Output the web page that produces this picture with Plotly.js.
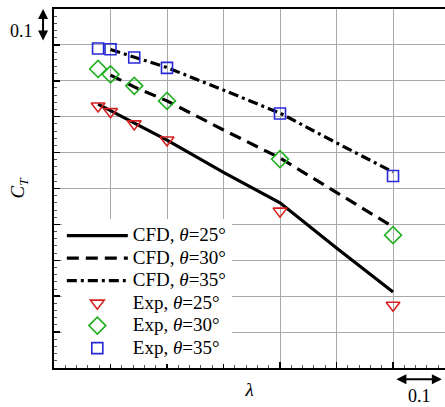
<!DOCTYPE html>
<html>
<head>
<meta charset="utf-8">
<script src="https://cdn.plot.ly/plotly-3.0.1.min.js"></script>
<style>html,body{margin:0;padding:0;background:#fff;}#chart{width:445px;height:407px;}</style>
</head>
<body>
<div id="chart"></div>
<script>
// CFD curves (lambda in arbitrary offset units, grid step 0.1)
const cfdX = [0.1, 0.142, 0.2, 0.3, 0.4, 0.5, 0.6];
const cfd25X = [0.078, 0.1, 0.142, 0.2, 0.3, 0.4, 0.5, 0.6];
const cfd25 = [0.735, 0.717, 0.682, 0.635, 0.545, 0.460, 0.334, 0.212];
const cfd30 = [0.816, 0.783, 0.744, 0.663, 0.585, 0.490, 0.393];
const cfd35 = [0.887, 0.865, 0.837, 0.774, 0.710, 0.627, 0.546];
// Experimental points
const expX = [0.078, 0.1, 0.142, 0.2, 0.4, 0.6];
const exp25 = [0.730, 0.714, 0.680, 0.635, 0.437, 0.175];
const exp30 = [0.833, 0.818, 0.786, 0.744, 0.582, 0.370];
const exp35 = [0.890, 0.888, 0.865, 0.836, 0.709, 0.535];
const seriesNames = ['CFD, <i>θ</i>=25°', 'CFD, <i>θ</i>=30°', 'CFD, <i>θ</i>=35°', 'Exp, <i>θ</i>=25°', 'Exp, <i>θ</i>=30°', 'Exp, <i>θ</i>=35°'];

const serif = 'Liberation Serif, Times New Roman, serif';
const big = s => '<span style="font-size:19px">' + s + '</span>';

const traces = [
  {x: cfd25X, y: cfd25, mode: 'lines', name: big(seriesNames[0]), line: {color: '#000', width: 3.2}},
  {x: cfdX, y: cfd30, mode: 'lines', name: big(seriesNames[1]), line: {color: '#000', width: 3.2, dash: '12px,7px'}},
  {x: cfdX, y: cfd35, mode: 'lines', name: big(seriesNames[2]), line: {color: '#000', width: 3.2, dash: '10px,4px,3px,4px'}},
  {x: expX, y: exp25, mode: 'markers', name: big(seriesNames[3]), marker: {symbol: 'triangle-down-open', size: 12, color: '#d62020', line: {width: 1.6}}},
  {x: expX, y: exp30, mode: 'markers', name: big(seriesNames[4]), marker: {symbol: 'diamond-open', size: 13, color: '#22b022', line: {width: 1.6}}},
  {x: expX, y: exp35, mode: 'markers', name: big(seriesNames[5]), marker: {symbol: 'square-open', size: 11, color: '#2828d8', line: {width: 1.6}}}
];

const arrowCommon = {xref: 'paper', yref: 'paper', text: '', showarrow: true, arrowside: 'end+start', arrowhead: 2, startarrowhead: 2, arrowsize: 1, startarrowsize: 1, arrowwidth: 2, arrowcolor: '#000', standoff: 0, startstandoff: 0};

const layout = {
  width: 445, height: 407,
  margin: {l: 54, r: 0, t: 9, b: 39},
  paper_bgcolor: '#fff', plot_bgcolor: '#fff',
  font: {family: serif, size: 17, color: '#000'},
  showlegend: true,
  legend: {x: 0.02, y: 0.414, xanchor: 'left', yanchor: 'top', bgcolor: '#fff', borderwidth: 0,
           font: {family: serif, size: 15, color: '#000'}, itemwidth: 61, tracegroupgap: 0},
  xaxis: {range: [0, 0.692], dtick: 0.1, tick0: 0, showticklabels: false, ticks: 'inside', ticklen: 6, tickwidth: 1.5, tickcolor: '#000',
          showgrid: true, gridcolor: '#a8a8a8', gridwidth: 1, zeroline: false,
          showline: true, linecolor: '#000', linewidth: 2, mirror: true,
          minor: {dtick: 0.02, ticks: 'inside', ticklen: 3, tickwidth: 1, tickcolor: '#555', showgrid: false},
          title: {text: '<i>λ</i>', font: {family: serif, size: 19}, standoff: 14}},
  yaxis: {range: [0, 1], dtick: 0.1, tick0: 0, showticklabels: false, ticks: 'inside', ticklen: 6, tickwidth: 1.5, tickcolor: '#000',
          showgrid: true, gridcolor: '#a8a8a8', gridwidth: 1, zeroline: false,
          showline: true, linecolor: '#000', linewidth: 2, mirror: false,
          minor: {dtick: 0.02, ticks: 'inside', ticklen: 3, tickwidth: 1, tickcolor: '#555', showgrid: false},
          title: {text: '<i>C</i><sub><i>T</i></sub>', font: {family: serif, size: 19}, standoff: 22}},
  annotations: [
    Object.assign({}, arrowCommon, {x: -0.028, y: 1.0, ax: 0, ay: 33}),
    Object.assign({}, arrowCommon, {x: 0.992, y: -0.031, ax: -47, ay: 0}),
    {xref: 'paper', yref: 'paper', x: -0.084, y: 0.939, xanchor: 'center', yanchor: 'middle', text: '0.1', showarrow: false, font: {family: serif, size: 18}},
    {xref: 'paper', yref: 'paper', x: 0.936, y: -0.078, xanchor: 'center', yanchor: 'middle', text: '0.1', showarrow: false, font: {family: serif, size: 18}}
  ]
};

Plotly.newPlot('chart', traces, layout, {displayModeBar: false, staticPlot: true});
</script>
</body>
</html>
